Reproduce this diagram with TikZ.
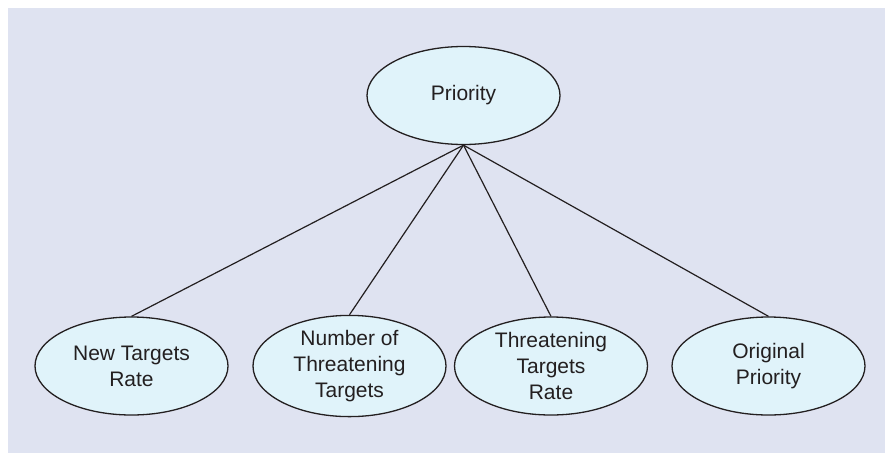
\documentclass[tikz,border=0pt]{standalone}
\usepackage{fontspec}
\setmainfont{Liberation Sans}
\usetikzlibrary{shapes.geometric}
\definecolor{panel}{HTML}{DFE3F1}
\definecolor{ellfill}{HTML}{E0F3FA}
\definecolor{ink}{HTML}{231F20}
\begin{document}
\begin{tikzpicture}[x=1pt,y=-1pt,
  oval/.style={ellipse, draw=ink, line width=1.3pt, fill=ellfill,
    minimum width=193pt, minimum height=98pt, inner sep=0pt,
    align=center, text=ink, font=\fontsize{21}{26}\selectfont},
  link/.style={draw=ink, line width=1.2pt}]
  \useasboundingbox (0,0) rectangle (885,453);
  \fill[panel] (8,8) rectangle (885,453);
  \node[oval] (P) at (463.5,95.5) {Priority};
  \node[oval] (A) at (131.5,366) {New Targets\\Rate};
  \node[oval] (B) at (349.5,366) {Number of\\Threatening\\Targets};
  \node[oval] (C) at (551,366) {Threatening\\Targets\\Rate};
  \node[oval] (D) at (768.5,366) {Original\\Priority};
  \draw[link] (P.south) -- (A.north);
  \draw[link] (P.south) -- (B.north);
  \draw[link] (P.south) -- (C.north);
  \draw[link] (P.south) -- (D.north);
\end{tikzpicture}
\end{document}
